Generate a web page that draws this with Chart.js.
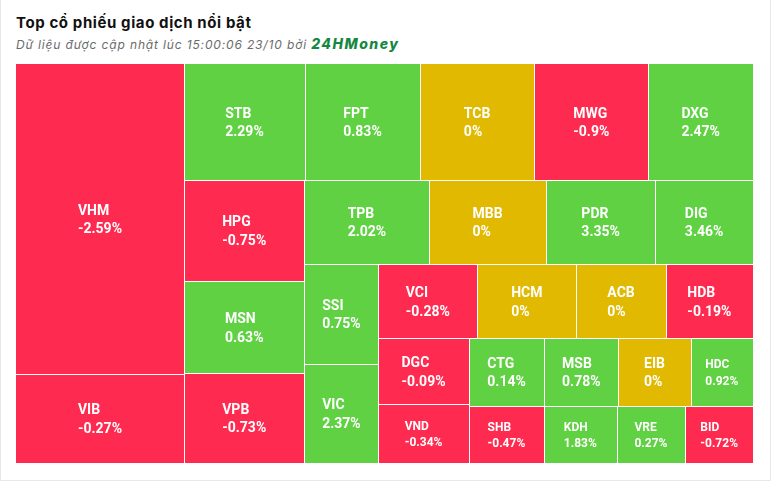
<!DOCTYPE html>
<html>
<head>
<meta charset="utf-8">
<script src="https://cdn.jsdelivr.net/npm/chart.js@4.4.1/dist/chart.umd.min.js"></script>
<style>
  html, body { margin: 0; padding: 0; background: #ffffff; }
  #wrap { position: relative; width: 773px; height: 481px; overflow: hidden; }
  #card { position: absolute; left: 0; top: -2px; width: 771px; height: 483px; border: 1px solid #e6e8ec; border-top: none; box-sizing: border-box; }
  #title { position: absolute; left: 16px; top: 13px; line-height: 22px; font: bold 15px Inter, sans-serif; letter-spacing: 0.6px; color: #111; white-space: nowrap; }
  #sub { position: absolute; left: 16px; top: 35px; line-height: 18px; font-family: Inter, sans-serif; font-style: italic; font-size: 12px; letter-spacing: 0.85px; color: #6b6b6b; white-space: nowrap; }
  #sub b { color: #15873f; font-weight: 800; font-size: 14px; letter-spacing: 1.5px; }
  canvas { position: absolute; left: 0; top: 0; }
</style>
</head>
<body>
<div id="wrap">
  <div id="card"></div>
  <div id="title">Top cổ phiếu giao dịch nổi bật</div>
  <div id="sub">Dữ liệu được cập nhật lúc 15:00:06 23/10 bởi <b>24HMoney</b></div>
  <canvas id="c" width="773" height="481"></canvas>
</div>
<script>
// ---- data ----
const tickers = ['VHM','VIB','STB','FPT','TCB','MWG','DXG','HPG','MSN','VPB','TPB','MBB','PDR','DIG','SSI','VIC','VCI','HCM','ACB','HDB','DGC','VND','CTG','MSB','EIB','HDC','SHB','KDH','VRE','BID'];
const tradeValues = [520.8,149.5,140.4,133.4,132.6,132.2,121.5,122.1,110.9,108.1,105.2,98.4,92.1,82.4,73.6,73.1,73.3,73.3,66.2,64.6,59.7,53.1,51.2,50.1,49.0,42.2,42.9,41.4,39.1,38.6];
const changes = [-2.59,-0.27,2.29,0.83,0,-0.9,2.47,-0.75,0.63,-0.73,2.02,0,3.35,3.46,0.75,2.37,-0.28,0,0,-0.19,-0.09,-0.34,0.14,0.78,0,0.92,-0.47,1.83,0.27,-0.72];

const UP = '#5fd142', DOWN = '#ff2a4f', FLAT = '#e0b900';
function colorFor(v) { return v > 0 ? UP : (v < 0 ? DOWN : FLAT); }

// squarified layout with alternating strip direction
function ratio(a, b) { return Math.max(a / b, b / a); }
function squarified(values, W, H) {
  const total = values.reduce((a, b) => a + b, 0);
  const areas = values.map(v => v / total * W * H);
  const out = [];
  let rx = 0, ry = 0, rw = W, rh = H, dir = 0, i = 0;
  while (i < areas.length) {
    const row = [areas[i]];
    let sum = areas[i], j = i + 1;
    while (j < areas.length) {
      const last = row[row.length - 1];
      const ns = sum + areas[j];
      let oR, nR;
      if (dir === 0) { const ow = sum / rh, nw = ns / rh; oR = ratio(ow, last / ow); nR = ratio(nw, last / nw); }
      else { const oh = sum / rw, nh = ns / rw; oR = ratio(last / oh, oh); nR = ratio(last / nh, nh); }
      if (nR > oR) break;
      row.push(areas[j]); sum = ns; j++;
    }
    if (dir === 0) {
      const w = sum / rh; let y = ry;
      row.forEach(a => { const h = a / w; out.push({x: rx, y: y, w: w, h: h}); y += h; });
      rx += w; rw -= w;
    } else {
      const h = sum / rw; let x = rx;
      row.forEach(a => { const w = a / h; out.push({x: x, y: ry, w: w, h: h}); x += w; });
      ry += h; rh -= h;
    }
    dir = 1 - dir; i = j;
  }
  return out;
}

class CellElement extends Chart.Element {
  static id = 'cell';
  static defaults = { backgroundColor: '#999', borderColor: '#ffffff', borderWidth: 1 };
  draw(ctx, area) {
    const o = this.options;
    const x0 = Math.round(this.x), y0 = Math.round(this.y);
    const x1 = Math.round(this.x + this.width), y1 = Math.round(this.y + this.height);
    ctx.save();
    ctx.fillStyle = o.backgroundColor;
    ctx.fillRect(x0, y0, x1 - x0, y1 - y0);
    ctx.fillStyle = o.borderColor;
    if (x0 > Math.round(area.left)) ctx.fillRect(x0, y0, o.borderWidth, y1 - y0);
    if (y0 > Math.round(area.top)) ctx.fillRect(x0, y0, x1 - x0, o.borderWidth);
    ctx.restore();
  }
}

class TreemapController extends Chart.DatasetController {
  static id = 'treemap';
  static defaults = { datasetElementType: false, dataElementType: 'cell' };
  update(mode) {
    const meta = this._cachedMeta;
    this.updateElements(meta.data, 0, meta.data.length, mode);
  }
  updateElements(elems, start, count, mode) {
    const {xScale, yScale} = this._cachedMeta;
    const ds = this.getDataset();
    const W = xScale.right - xScale.left, H = yScale.bottom - yScale.top;
    const rects = squarified(ds.data, W, H);
    const xr = xScale.max - xScale.min, yr = yScale.max - yScale.min;
    for (let i = start; i < start + count; i++) {
      const r = rects[i];
      const px0 = xScale.getPixelForValue(xScale.min + r.x / W * xr);
      const px1 = xScale.getPixelForValue(xScale.min + (r.x + r.w) / W * xr);
      const py0 = yScale.getPixelForValue(yScale.min + r.y / H * yr);
      const py1 = yScale.getPixelForValue(yScale.min + (r.y + r.h) / H * yr);
      this.updateElement(elems[i], i, {
        x: Math.min(px0, px1), y: Math.min(py0, py1),
        width: Math.abs(px1 - px0), height: Math.abs(py1 - py0),
        options: this.resolveDataElementOptions(i, mode)
      }, mode);
    }
  }
  draw() {
    super.draw();
    const ctx = this._ctx;
    const ds = this.getDataset();
    const meta = this._cachedMeta;
    ctx.save();
    ctx.fillStyle = '#ffffff';
    ctx.textAlign = 'left';
    ctx.textBaseline = 'alphabetic';
    meta.data.forEach((el, i) => {
      const lines = [ds.labels[i], ds.changes[i] + '%'];
      const small = Math.min(el.width, el.height) < 65;
      const fs = small ? 12 : 14;
      const lh = small ? 16.5 : 18.5;
      ctx.font = 'bold ' + fs + 'px Roboto, sans-serif';
      const mw = Math.max(...lines.map(t => ctx.measureText(t).width));
      const cx = el.x + el.width / 2, cy = el.y + el.height / 2;
      const cap = fs * 0.711;
      const blockH = lh * (lines.length - 1) + cap;
      let base = cy - blockH / 2 + cap;
      const lx = cx - mw / 2;
      lines.forEach(t => { ctx.fillText(t, lx, base); base += lh; });
    });
    ctx.restore();
  }
}

Chart.register(CellElement, TreemapController);

new Chart(document.getElementById('c'), {
  type: 'treemap',
  data: {
    labels: tickers,
    datasets: [{
      label: 'Giá trị giao dịch',
      data: tradeValues,
      labels: tickers,
      changes: changes,
      backgroundColor: (c) => colorFor(changes[c.dataIndex]),
      borderColor: '#ffffff',
      borderWidth: 1
    }]
  },
  options: {
    responsive: false,
    animation: false,
    events: [],
    layout: { padding: { left: 16, top: 64, right: 20, bottom: 18 } },
    scales: {
      x: { type: 'linear', display: false, min: 0, max: 100 },
      y: { type: 'linear', display: false, min: 0, max: 100, reverse: true }
    },
    plugins: { legend: { display: false }, tooltip: { enabled: false } }
  }
});
</script>
</body>
</html>
